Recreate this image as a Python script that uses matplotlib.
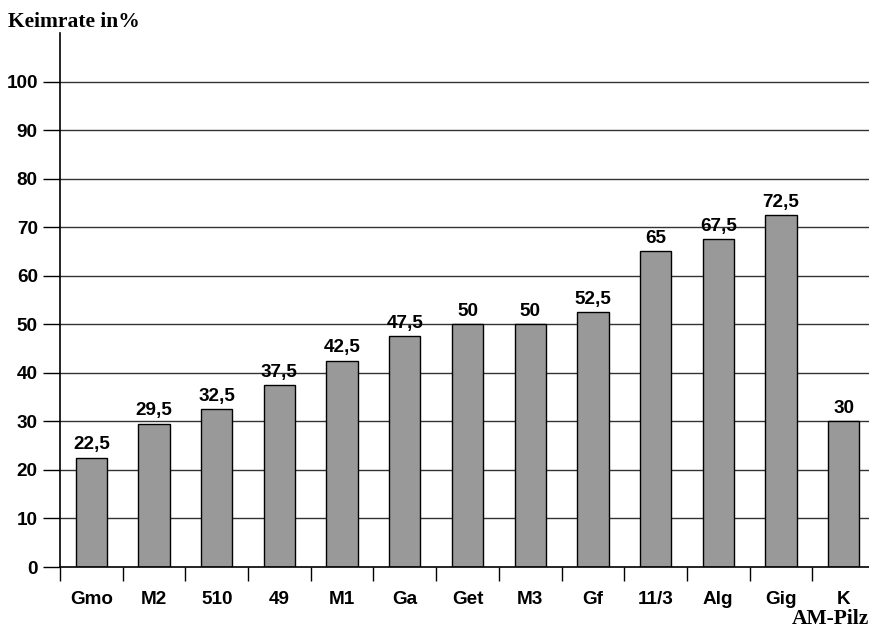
import matplotlib
matplotlib.use("Agg")
import matplotlib.pyplot as plt
import numpy as np

# Keimrate je AM-Pilz
pilze = ["Gmo", "M2", "510", "49", "M1", "Ga", "Get", "M3", "Gf", "11/3", "Alg", "Gig", "K"]
keimrate = [22.5, 29.5, 32.5, 37.5, 42.5, 47.5, 50, 50, 52.5, 65, 67.5, 72.5, 30]
y_ticks = [0, 10, 20, 30, 40, 50, 60, 70, 80, 90, 100]

sans = "Liberation Sans"
serif = "Liberation Serif"
fs = 13.6

fig = plt.figure(figsize=(8.69, 6.29), dpi=100)
ax = fig.add_axes([60 / 869, 62 / 629, 815 / 869, 534 / 629])

x = np.arange(len(pilze))
ax.bar(x, keimrate, width=0.5, color="#999999", edgecolor="black", linewidth=1.0, zorder=3)

for xi, v in zip(x, keimrate):
    lab = ("%g" % v).replace(".", ",")
    ax.text(xi, v + 0.9, lab, ha="center", va="bottom", fontsize=fs,
            fontweight="bold", family=sans, zorder=4)

for t in y_ticks[1:]:
    ax.axhline(t, color="#333333", linewidth=1.0, zorder=1)

ax.set_xlim(-0.5, len(pilze) - 0.5)
ax.set_ylim(0, 110)
ax.set_yticks(y_ticks)
ax.set_yticklabels([str(t) for t in y_ticks], fontsize=fs, fontweight="bold", family=sans)

# ticks between the categories, labels centred below the bars
ax.set_xticks(np.arange(len(pilze) + 1) - 0.5)
ax.set_xticklabels([])
ax.set_xticks(x, minor=True)
ax.set_xticklabels(pilze, minor=True, fontsize=fs, fontweight="bold", family=sans)
ax.tick_params(axis="x", which="major", direction="out", length=10, width=1, color="black")
ax.tick_params(axis="x", which="minor", length=0, pad=17)
ax.tick_params(axis="y", direction="out", length=12, width=1, pad=4)

for s in ["top", "right"]:
    ax.spines[s].set_visible(False)
ax.spines["left"].set_linewidth(1.2)
ax.spines["bottom"].set_linewidth(1.2)
ax.spines["left"].set_zorder(5)
ax.spines["bottom"].set_zorder(5)

fig.text(8 / 869, 1 - 22 / 629, "Keimrate in%", ha="left", va="center",
         fontsize=15.5, fontweight="bold", family=serif)
fig.text(869 / 869, 1 - 619 / 629, "AM-Pilz", ha="right", va="center",
         fontsize=15.5, fontweight="bold", family=serif)

fig.savefig("out.png", dpi=100)
